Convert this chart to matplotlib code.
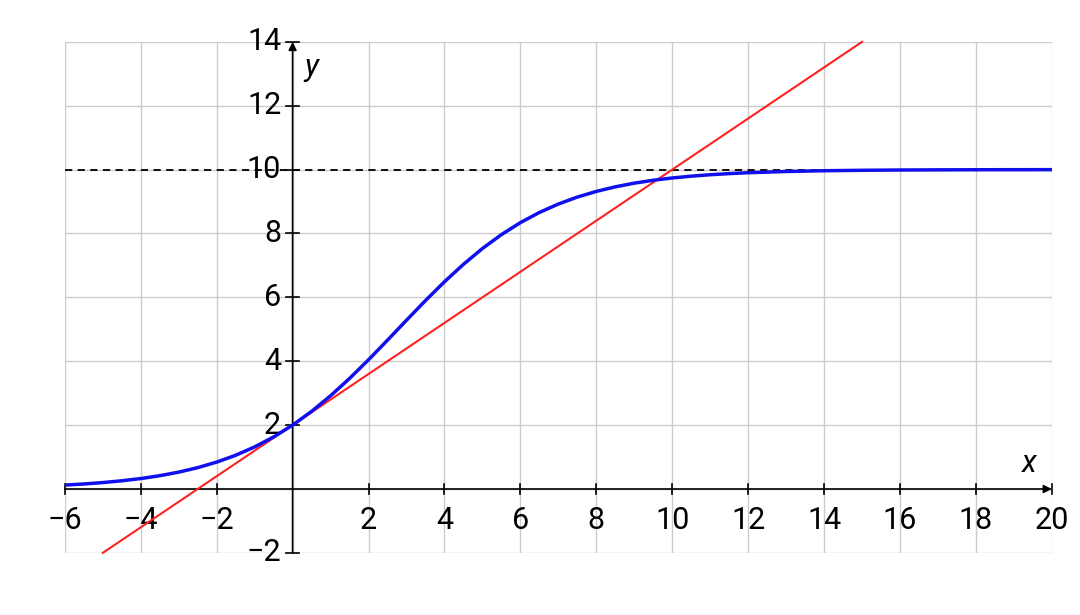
import matplotlib.pyplot as plt

plt.rcParams['font.family'] = ['Roboto', 'DejaVu Sans']

# logistic curve, values
curve_x = [-6, -5.5, -5, -4.5, -4, -3.5, -3, -2.5, -2, -1.5, -1, -0.5, 0,
           0.5, 1, 1.5, 2, 2.5, 3, 3.5, 4, 4.5, 5, 5.5, 6, 6.5, 7, 7.5, 8,
           8.5, 9, 9.5, 10, 10.5, 11, 11.5, 12, 13, 14, 15, 16, 17, 18, 19, 20]
curve_y = [0.123, 0.157, 0.201, 0.257, 0.327, 0.416, 0.528, 0.668, 0.842,
           1.056, 1.317, 1.630, 2.0, 2.430, 2.919, 3.461, 4.046, 4.660,
           5.284, 5.899, 6.488, 7.034, 7.529, 7.964, 8.340, 8.657, 8.922,
           9.140, 9.317, 9.460, 9.575, 9.666, 9.738, 9.794, 9.839, 9.874,
           9.902, 9.940, 9.964, 9.978, 9.987, 9.992, 9.995, 9.997, 9.998]

# tangent at x = 0
tangent_x = [-5, 15]
tangent_y = [-2, 14]

asymptote_y = 10
x_ticks = [-6, -4, -2, 2, 4, 6, 8, 10, 12, 14, 16, 18, 20]
y_ticks = [-2, 2, 4, 6, 8, 10, 12, 14]

fig = plt.figure(figsize=(10.8, 6.15), dpi=100)
ax = fig.add_axes([0.060, 0.101, 0.914, 0.831])
ax.set_xlim(-6, 20)
ax.set_ylim(-2, 14)

for gx in range(-6, 21, 2):
    ax.axvline(gx, color='#cccccc', lw=1, zorder=0)
for gy in range(-2, 15, 2):
    ax.axhline(gy, color='#cccccc', lw=1, zorder=0)

for s in ax.spines.values():
    s.set_visible(False)
ax.set_xticks([])
ax.set_yticks([])

# axes with arrows
ax.annotate('', xy=(20, 0), xytext=(-6, 0),
            arrowprops=dict(arrowstyle='-|>', color='black', lw=1.2,
                            mutation_scale=12, shrinkA=0, shrinkB=0),
            annotation_clip=False)
ax.annotate('', xy=(0, 14), xytext=(0, -2),
            arrowprops=dict(arrowstyle='-|>', color='black', lw=1.2,
                            mutation_scale=12, shrinkA=0, shrinkB=0),
            annotation_clip=False)

for t in x_ticks:
    ax.plot([t, t], [-0.15, 0.15], color='black', lw=1.2, clip_on=False)
    ax.text(t, -1.0, f'{t}'.replace('-', '\u2212'), ha='center', va='center',
            fontsize=22)
for t in y_ticks:
    ax.plot([-0.17, 0.17], [t, t], color='black', lw=1.2, clip_on=False)
    ax.text(-0.3, t, f'{t}'.replace('-', '\u2212'), ha='right', va='center',
            fontsize=22)

ax.text(19.4, 0.35, 'x', fontsize=22, style='italic', ha='center', va='bottom')
ax.text(0.3, 13.2, 'y', fontsize=22, style='italic', ha='left', va='center')

ax.axhline(asymptote_y, color='black', lw=1.3, ls=(0, (4, 3)), zorder=2)
ax.plot(tangent_x, tangent_y, color='#ff2020', lw=1.5, zorder=3, clip_on=False)
ax.plot(curve_x, curve_y, color='#1010ee', lw=2.5, zorder=4)

fig.savefig('out.png', dpi=100)
